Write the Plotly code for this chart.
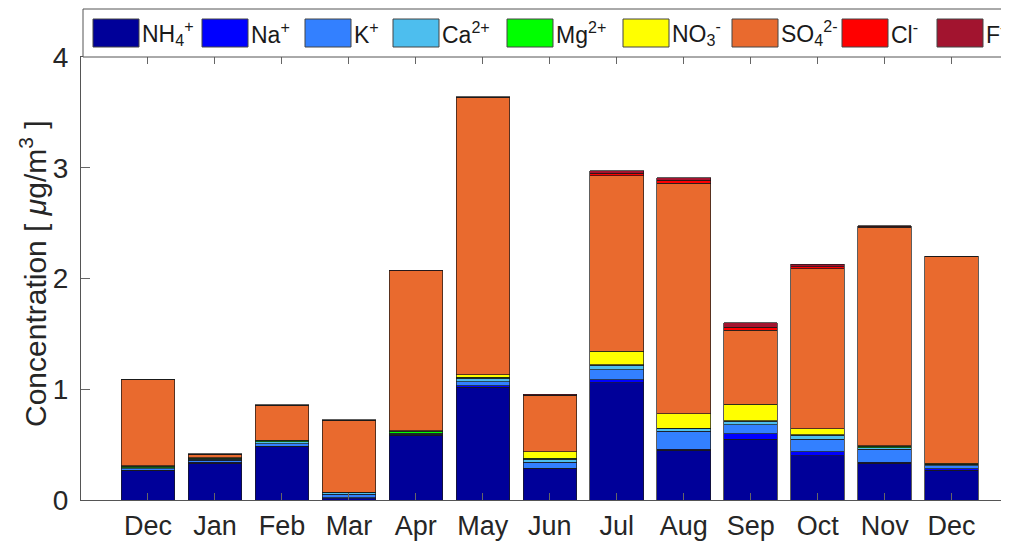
import plotly.graph_objects as go

months = ["Dec", "Jan", "Feb", "Mar", "Apr", "May", "Jun", "Jul", "Aug", "Sep", "Oct", "Nov", "Dec"]

nh4 = [0.265, 0.33, 0.48, 0.01, 0.58, 1.02, 0.28, 1.06, 0.45, 0.55, 0.40, 0.33, 0.27]
na = [0.005, 0.01, 0.005, 0.01, 0.005, 0.01, 0.005, 0.025, 0.01, 0.05, 0.035, 0.01, 0.01]
k = [0.01, 0.02, 0.025, 0.03, 0.01, 0.04, 0.055, 0.09, 0.16, 0.08, 0.115, 0.12, 0.03]
ca = [0.01, 0.01, 0.015, 0.015, 0.01, 0.03, 0.03, 0.04, 0.025, 0.03, 0.035, 0.01, 0.01]
mg = [0.015, 0.005, 0.01, 0.005, 0.015, 0.01, 0.005, 0.005, 0.005, 0.005, 0.005, 0.015, 0.005]
no3 = [0.005, 0.005, 0.005, 0.0, 0.005, 0.02, 0.06, 0.125, 0.13, 0.15, 0.055, 0.005, 0.005]
so4 = [0.775, 0.03, 0.315, 0.65, 1.445, 2.50, 0.505, 1.585, 2.08, 0.67, 1.445, 1.975, 1.87]
cl = [0.0, 0.005, 0.0, 0.0, 0.0, 0.005, 0.005, 0.02, 0.025, 0.025, 0.015, 0.005, 0.0]
f = [0.003, 0.003, 0.003, 0.003, 0.003, 0.008, 0.01, 0.025, 0.025, 0.04, 0.025, 0.008, 0.003]

series_names = ["NH<sub>4</sub><sup>+</sup>", "Na<sup>+</sup>", "K<sup>+</sup>", "Ca<sup>2+</sup>",
                "Mg<sup>2+</sup>", "NO<sub>3</sub><sup>-</sup>", "SO<sub>4</sub><sup>2-</sup>",
                "Cl<sup>-</sup>", "F<sup>-</sup>"]
series_values = [nh4, na, k, ca, mg, no3, so4, cl, f]
series_colors = ["#000099", "#0000FF", "#3380FF", "#4DBEEE", "#00FF00", "#FFFF00",
                 "#E96A2E", "#FF0000", "#A2142F"]

y_ticks = [0, 1, 2, 3, 4]

# page body has an 8px margin; compensate so the plot lands where the reference has it
OFF = 8
W, H = 1009 - OFF, 546 - OFF
ML, MR, MT, MB = 81 - OFF, 0, 57 - OFF, 46
PW = W - ML - MR
PH = H - MT - MB

x_pos = list(range(1, len(months) + 1))

fig = go.Figure()
for name, vals, col in zip(series_names, series_values, series_colors):
    fig.add_trace(go.Bar(
        x=x_pos, y=vals, name=name, width=0.8,
        marker=dict(color=col, line=dict(color="#1a1a1a", width=0.7)),
        showlegend=False,
    ))

font_family = "Liberation Sans, Arial, sans-serif"

fig.update_layout(
    width=W, height=H,
    margin=dict(l=ML, r=MR, t=MT, b=MB),
    barmode="stack",
    plot_bgcolor="white", paper_bgcolor="white",
    font=dict(family=font_family, color="#262626"),
    xaxis=dict(
        range=[0, PW / 66.97], tickvals=x_pos, ticktext=months,
        ticks="inside", ticklen=7, tickcolor="#666", tickwidth=1,
        showline=True, linecolor="#555", linewidth=1, mirror="ticks",
        showgrid=False, zeroline=False,
        tickfont=dict(size=27, color="#262626"), ticklabelstandoff=2,
    ),
    yaxis=dict(
        range=[0, 4], tickvals=y_ticks,
        ticks="inside", ticklen=9, tickcolor="#666", tickwidth=1,
        showline=True, linecolor="#555", linewidth=1,
        showgrid=False, zeroline=False,
        tickfont=dict(size=28, color="#262626"), ticklabelstandoff=6,
    ),
)

def px_x(p):
    return (p - OFF - ML) / PW

def px_y(p):
    return (H + OFF - MB - p) / PH

# y-axis title
fig.add_annotation(
    text="Concentration [ <i>μ</i>g/m<sup>3</sup> ]",
    x=px_x(33), y=px_y(274), xref="paper", yref="paper",
    textangle=-90, showarrow=False, xanchor="center", yanchor="middle",
    font=dict(size=30, color="#262626", family=font_family),
)

# legend frame
fig.add_shape(type="rect", xref="paper", yref="paper",
              x0=px_x(83), x1=px_x(1015), y0=px_y(57), y1=px_y(9),
              fillcolor="white", line=dict(color="#555", width=1), layer="above")

legend_box_left = [93, 202, 305, 393, 507, 623, 732, 842, 937]
box_w, box_top, box_bot = 46, 19, 47
for name, col, lx in zip(series_names, series_colors, legend_box_left):
    fig.add_shape(type="rect", xref="paper", yref="paper",
                  x0=px_x(lx), x1=px_x(lx + box_w), y0=px_y(box_bot), y1=px_y(box_top),
                  fillcolor=col, line=dict(color="#444", width=1), layer="above")
    fig.add_annotation(text=name, x=px_x(lx + box_w + 1), y=px_y(33),
                       xref="paper", yref="paper", showarrow=False,
                       xanchor="left", yanchor="middle",
                       font=dict(size=23, color="#1a1a1a", family=font_family))

fig.write_html("out.html")
